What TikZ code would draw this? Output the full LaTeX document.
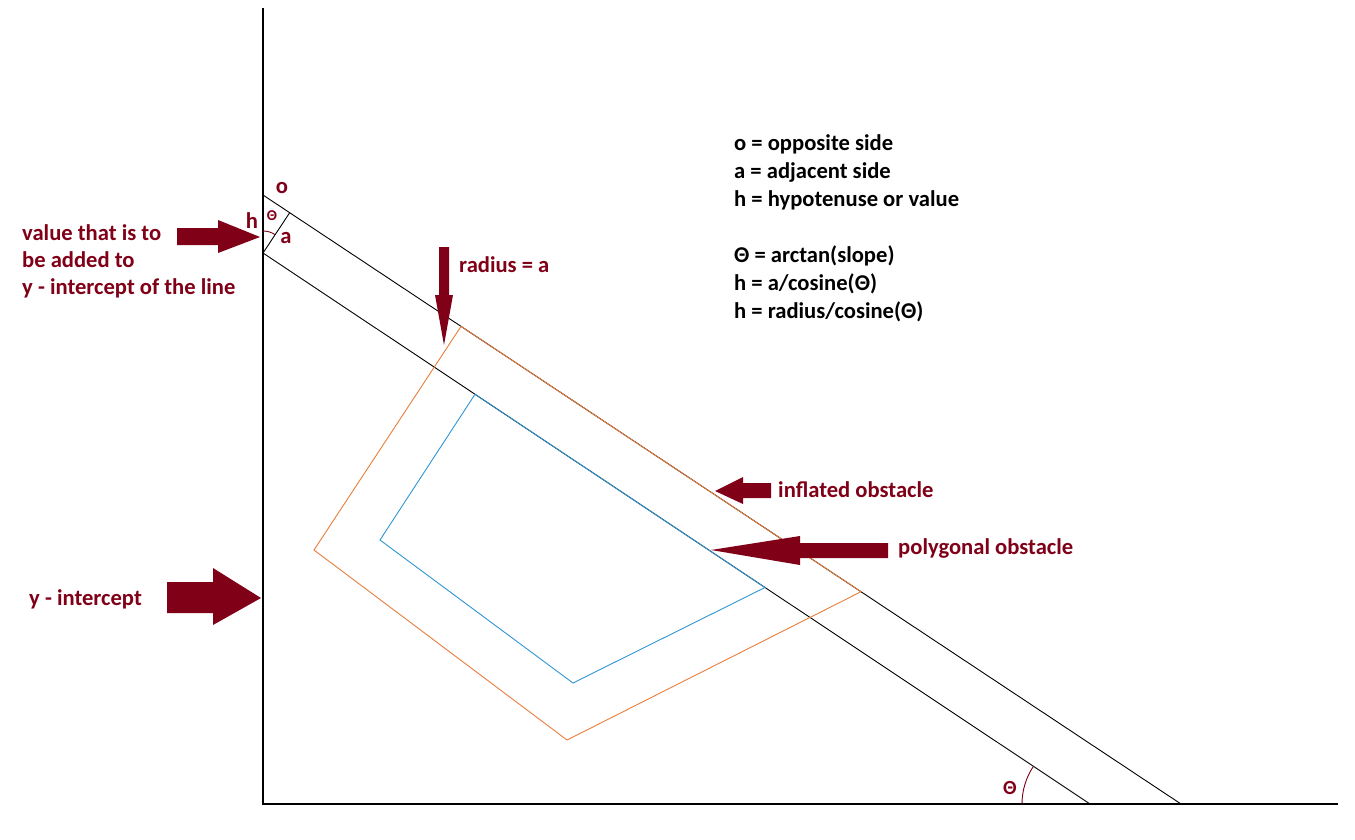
\documentclass[tikz,border=0pt]{standalone}
\usepackage{fontspec}
\setmainfont{Carlito}
\usepackage{xcolor}
\usepackage{tikz}
\definecolor{darkred}{RGB}{128,0,24}
\definecolor{inflorange}{RGB}{232,125,60}
\definecolor{polyblue}{RGB}{45,150,210}

\begin{document}
\begin{tikzpicture}[x=1pt,y=-1pt,
    redlbl/.style={text=darkred,font=\fontsize{22.6}{27}\selectfont\bfseries,inner sep=0pt},
    blklbl/.style={text=black,font=\fontsize{22.6}{28}\selectfont\bfseries,inner sep=0pt},
    fatarrow/.style={fill=darkred,draw=none}]
  \useasboundingbox (0,0) rectangle (1355,839);
  % axes
  \draw[line width=1.1pt] (263,8) -- (263,804) -- (1338,804);
  % the two parallel lines
  \coordinate (hTop) at (263,195);
  \coordinate (hBot) at (263,253);
  \coordinate (aTop) at (289.7,212.7);
  \draw[line width=0.9pt] (hTop) -- (1181,804);
  \draw[line width=0.9pt] (hBot) -- (1090,804);
  \draw[line width=0.9pt] (hBot) -- (aTop);
  \draw[darkred,line width=0.9pt] (263,231) arc (270:303.5:22);
  \draw[darkred,line width=0.9pt] (1022,804) arc (180:213.7:68);
  % obstacles
  \draw[inflorange,line width=0.9pt] (461,326.4) -- (861,591.7) -- (567,740) -- (314,550) -- cycle;
  \draw[polyblue,line width=0.9pt] (475,394.3) -- (765,587.5) -- (573,683) -- (380,540) -- cycle;
  % block arrows
  \fill[fatarrow] (177,228) -- (218,228) -- (218,220) -- (260,237) -- (218,253) -- (218,245) -- (177,245) -- cycle;
  \fill[fatarrow] (439,247) -- (449,247) -- (449,295) -- (453,295) -- (444,345) -- (435,295) -- (439,295) -- cycle;
  \fill[fatarrow] (771,483) -- (743,483) -- (743,477) -- (715,491) -- (743,504) -- (743,498) -- (771,498) -- cycle;
  \fill[fatarrow] (888,543) -- (800,543) -- (800,536) -- (711,550) -- (800,565) -- (800,558) -- (888,558) -- cycle;
  \fill[fatarrow] (167,582) -- (213,582) -- (213,568) -- (261,598) -- (213,625) -- (213,613) -- (167,613) -- cycle;
  % labels
  \node[redlbl] (oLbl) at (282,188) {o};
  \node[redlbl] (hLbl) at (252,221) {h};
  \node[redlbl] (aLbl) at (286,238) {a};
  \node[redlbl,font=\fontsize{15}{17}\selectfont\bfseries] (thLbl) at (272,216) {Θ};
  \node[redlbl,font=\fontsize{20}{24}\selectfont\bfseries] (thBot) at (1010,788) {Θ};
  \node[redlbl,anchor=base west] (val1) at (22,240) {value that is to};
  \node[redlbl,anchor=base west] (val2) at (22,267) {be added to};
  \node[redlbl,anchor=base west] (val3) at (22,294) {y - intercept of the line};
  \node[redlbl,anchor=base west] (radLbl) at (459,272) {radius = a};
  \node[redlbl,anchor=base west] (inflLbl) at (778,497) {inflated obstacle};
  \node[redlbl,anchor=base west] (polyLbl) at (898,554) {polygonal obstacle};
  \node[redlbl,anchor=base west] (yintLbl) at (29,605) {y - intercept};
  % legend
  \node[blklbl,anchor=base west] (leg1) at (734,150) {o = opposite side};
  \node[blklbl,anchor=base west] (leg2) at (734,178) {a = adjacent side};
  \node[blklbl,anchor=base west] (leg3) at (734,206) {h = hypotenuse or value};
  \node[blklbl,anchor=base west] (leg4) at (734,262) {Θ = arctan(slope)};
  \node[blklbl,anchor=base west] (leg5) at (734,290) {h = a/cosine(Θ)};
  \node[blklbl,anchor=base west] (leg6) at (734,318) {h = radius/cosine(Θ)};
\end{tikzpicture}
\end{document}
